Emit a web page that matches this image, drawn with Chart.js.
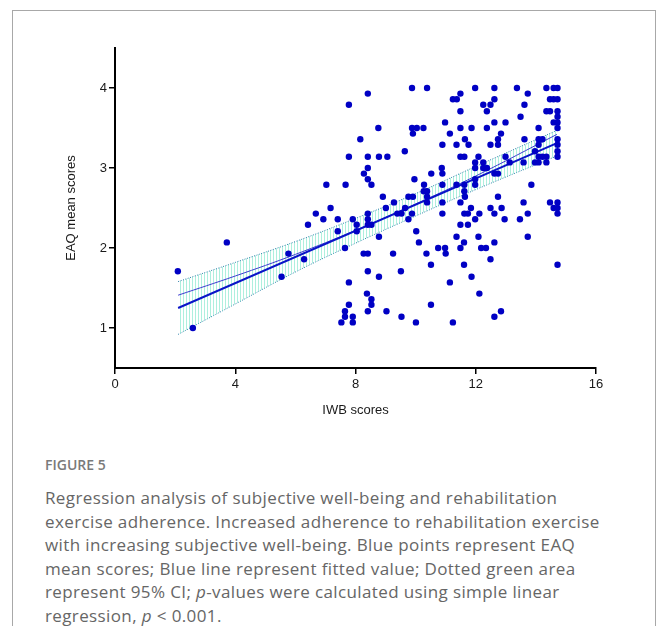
<!DOCTYPE html>
<html>
<head>
<meta charset="utf-8">
<script src="https://cdn.jsdelivr.net/npm/chart.js@4.4.1/dist/chart.umd.min.js"></script>
<style>
  body { margin: 0; background: #fff; width: 658px; height: 626px; overflow: hidden; position: relative; font-family: 'Open Sans', sans-serif; }
  .frame { position: absolute; left: 12px; top: 10px; width: 642px; height: 700px; border: 1px solid #a8a8a8; border-bottom: none; }
  .plot { position: absolute; left: 0; top: 0; width: 658px; height: 430px; }
  .caption { position: absolute; left: 45px; top: 455px; width: 610px; color: #666; white-space: nowrap; }
  .fig { font-size: 14px; font-weight: 600; color: #7a7a7a; margin-bottom: 12px; }
  .text { font-size: 17px; line-height: 23.6px; letter-spacing: 0.38px; }
</style>
</head>
<body>
<div class="frame"></div>
<div class="plot"><canvas id="regChart"></canvas></div>
<div class="caption">
  <div class="fig">FIGURE 5</div>
  <div class="text">Regression analysis of subjective well-being and rehabilitation<br>exercise adherence. Increased adherence to rehabilitation exercise<br>with increasing subjective well-being. Blue points represent EAQ<br>mean scores; Blue line represent fitted value; Dotted green area<br>represent 95% CI; <i>p</i>-values were calculated using simple linear<br>regression, <i>p</i> &lt; 0.001.</div>
</div>
<script>
// EAQ mean score levels and the IWB scores of the points found at each level
const eaqLevels = [4.00, 3.93, 3.86, 3.79, 3.71, 3.64, 3.57, 3.50, 3.43, 3.36, 3.29, 3.21, 3.14, 3.07,
  3.00, 2.93, 2.86, 2.79, 2.71, 2.64, 2.57, 2.50, 2.43, 2.36, 2.29, 2.21, 2.14, 2.07, 2.00,
  1.93, 1.86, 1.79, 1.71, 1.64, 1.57, 1.43, 1.36, 1.29, 1.21, 1.14, 1.07, 1.00];
const iwbAtLevel = [
  [9.88, 10.38, 11.98, 12.62, 13.37, 14.35, 14.59, 14.72],
  [8.41, 11.49, 13.73],
  [11.24, 11.37, 12.62, 14.47, 14.59, 14.72],
  [7.78, 12.25, 12.49, 13.62],
  [11.49, 12.37, 14.35, 14.47, 14.72],
  [13.49, 14.72],
  [10.98, 12.62, 12.99, 14.59, 14.72],
  [8.76, 9.88, 10.04, 10.26, 11.49, 11.86, 12.37, 14.09, 14.72],
  [9.91, 11.14, 12.84],
  [8.16, 11.64, 12.74, 13.62, 14.09, 14.22, 14.72],
  [10.89, 11.36, 11.76, 12.49, 12.74, 14.09, 14.72],
  [9.64, 13.97, 14.72],
  [7.78, 8.41, 8.78, 9.06, 11.49, 11.62, 12.09, 12.99, 14.09, 14.22, 14.35, 14.72],
  [11.98, 12.25, 13.13, 13.59, 13.97, 14.09, 14.35],
  [8.41, 10.87, 11.98, 12.25, 12.37],
  [8.28, 10.52, 10.89, 12.62, 12.74],
  [8.41, 9.96, 11.98],
  [7.03, 7.67, 8.53, 10.28, 10.89, 11.36, 11.62, 11.98, 13.85],
  [10.27, 10.38, 11.62],
  [8.91, 9.76, 9.91, 10.38, 11.64, 12.74],
  [9.28, 10.38, 10.89, 11.49, 13.59, 14.47, 14.72],
  [7.17, 9.01, 9.65, 11.84, 12.49, 12.86, 14.59, 14.72],
  [6.68, 8.41, 9.39, 9.53, 9.88, 10.89, 11.62, 11.74, 12.12, 12.62, 13.73, 14.72],
  [6.93, 7.41, 7.91, 8.41, 9.76, 11.98, 12.96, 13.47],
  [6.42, 8.04, 8.41, 8.53, 11.49, 11.74],
  [7.41, 8.04, 10.02],
  [8.78, 11.36, 12.09, 13.73],
  [3.72, 10.11, 11.61, 12.62],
  [7.65, 10.75, 10.98, 11.49, 12.18, 12.34],
  [5.77, 8.27, 8.41, 9.25, 10.36, 11.00],
  [6.29, 12.49],
  [10.51, 11.61, 14.72],
  [2.09, 8.41, 9.51],
  [5.54, 8.78, 11.86],
  [7.78, 11.14],
  [8.38, 12.12],
  [8.53],
  [7.78, 8.53, 10.51],
  [7.65, 8.41, 9.03, 12.84],
  [7.65, 7.91, 9.53, 12.62],
  [7.53, 7.91, 10.01, 11.24],
  [2.59]
];

// fitted line, second fit line and 95% CI band
const fitX = [2.1, 14.7];
const fitY = [1.25, 3.31];
const curveX = [2.1, 4, 6, 8, 10, 12, 14.7];
const curveY = [1.41, 1.65, 1.92, 2.22, 2.55, 2.90, 3.42];
const ciX = [2.1, 4, 6, 8, 10, 12, 14.7];
const ciUpper = [1.58, 1.82, 2.08, 2.37, 2.68, 3.02, 3.47];
const ciLower = [0.92, 1.30, 1.70, 2.06, 2.40, 2.73, 3.15];

const xTicks = [0, 4, 8, 12, 16];
const yTicks = [1, 2, 3, 4];

const points = [];
eaqLevels.forEach((lvl, i) => {
  iwbAtLevel[i].forEach(x => points.push({ x: x, y: lvl }));
});
const toXY = (xs, ys) => xs.map((x, i) => ({ x: x, y: ys[i] }));

// vertical hatching for the CI area
const hatch = document.createElement('canvas');
hatch.width = 3; hatch.height = 4;
const hctx = hatch.getContext('2d');
hctx.fillStyle = 'rgba(120,228,200,0.6)';
hctx.fillRect(0, 0, 1, 4);
const hatchPattern = hctx.createPattern(hatch, 'repeat');

const tickFont = { family: "'Liberation Sans', Arial, sans-serif", size: 13 };

const ctx = document.getElementById('regChart').getContext('2d');
const regChart = new Chart(ctx, {
  type: 'scatter',
  data: {
    datasets: [
      {
        label: 'EAQ mean scores',
        data: points,
        backgroundColor: '#0000c4',
        borderWidth: 0,
        pointRadius: 3.2,
        pointHoverRadius: 3.2
      },
      {
        type: 'line',
        label: 'Fitted value',
        data: toXY(fitX, fitY),
        borderColor: '#0a14c8',
        borderWidth: 2,
        pointRadius: 0,
        fill: false
      },
      {
        type: 'line',
        label: 'Fit 2',
        data: toXY(curveX, curveY),
        borderColor: '#3c3cd0',
        borderWidth: 1,
        pointRadius: 0,
        tension: 0.4,
        fill: false
      },
      {
        type: 'line',
        label: 'CI upper',
        data: toXY(ciX, ciUpper),
        borderColor: '#2a7fa8',
        borderWidth: 1,
        borderDash: [1, 1.5],
        pointRadius: 0,
        tension: 0.4,
        backgroundColor: hatchPattern,
        fill: '+1'
      },
      {
        type: 'line',
        label: 'CI lower',
        data: toXY(ciX, ciLower),
        borderColor: '#2a7fa8',
        borderWidth: 1,
        borderDash: [1, 1.5],
        pointRadius: 0,
        tension: 0.4,
        fill: false
      }
    ]
  },
  options: {
    responsive: true,
    maintainAspectRatio: false,
    animation: false,
    layout: { padding: { top: 48, right: 62, left: 0, bottom: 0 } },
    plugins: { legend: { display: false }, tooltip: { enabled: false } },
    scales: {
      x: {
        type: 'linear',
        min: 0,
        max: 16,
        afterBuildTicks: s => { s.ticks = xTicks.map(v => ({ value: v })); },
        afterFit: s => { s.height = 62; },
        ticks: { color: '#1a1a1a', font: tickFont, padding: 3, maxRotation: 0 },
        grid: { drawOnChartArea: false, tickLength: 6, color: '#000', lineWidth: 1.5 },
        border: { color: '#000', width: 2 },
        title: { display: true, text: 'IWB scores', color: '#1a1a1a', font: tickFont, padding: { top: 0, bottom: 12 } }
      },
      y: {
        type: 'linear',
        min: 0.5,
        max: 4.5,
        afterBuildTicks: s => { s.ticks = yTicks.map(v => ({ value: v })); },
        afterFit: s => { s.width = 115; },
        ticks: { color: '#1a1a1a', font: tickFont, padding: 2 },
        grid: { drawOnChartArea: false, tickLength: 6, color: '#000', lineWidth: 1.5 },
        border: { color: '#000', width: 2 },
        title: { display: true, text: 'EAQ mean scores', color: '#1a1a1a', font: tickFont, padding: { top: 64, bottom: 0 } }
      }
    }
  }
});
</script>
</body>
</html>
